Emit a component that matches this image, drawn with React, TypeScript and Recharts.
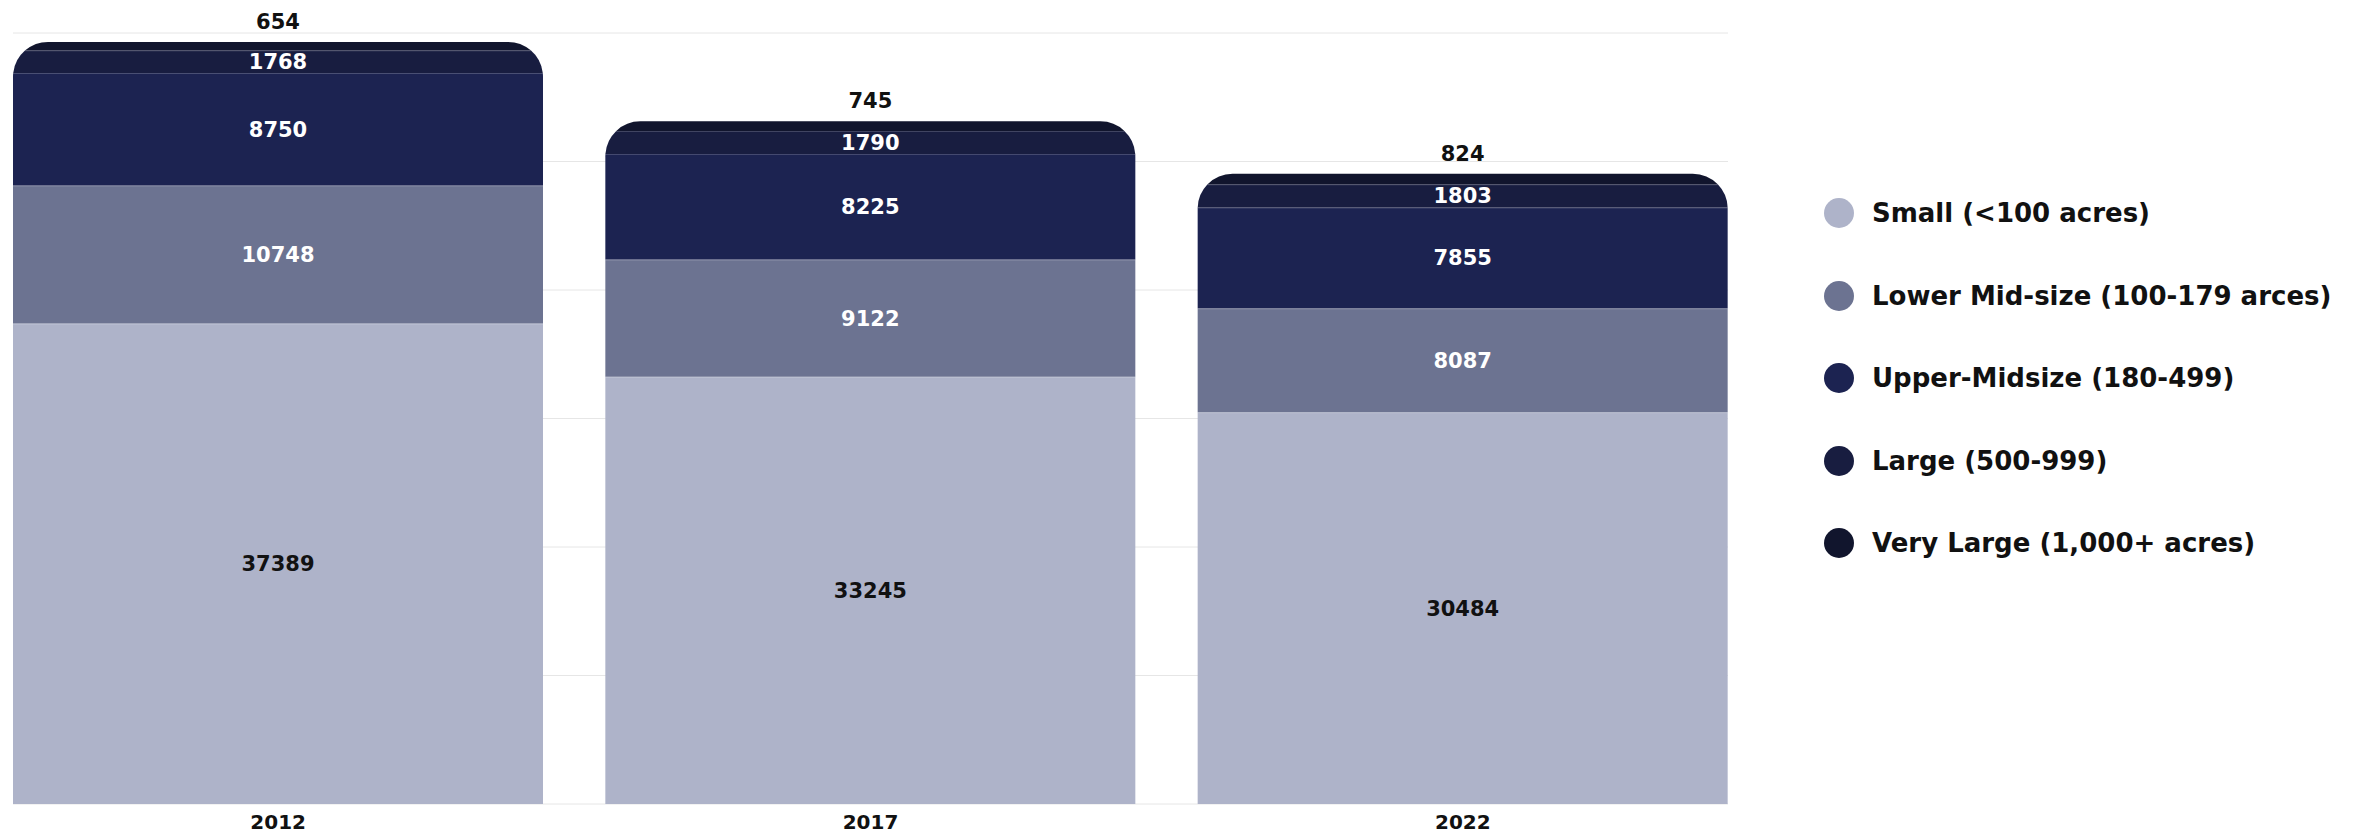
import React from 'react';
import { BarChart, Bar, XAxis, YAxis, CartesianGrid, Legend, LabelList } from 'recharts';

document.body.style.margin = '0';

// farm counts by size class
const years = ['2012', '2017', '2022'];
const small = [37389, 33245, 30484];
const lowerMid = [10748, 9122, 8087];
const upperMid = [8750, 8225, 7855];
const large = [1768, 1790, 1803];
const veryLarge = [654, 745, 824];

const yTicks = [0, 10000, 20000, 30000, 40000, 50000, 60000];

const SERIES = [
    { key: 'small', name: 'Small (<100 acres)', color: '#AEB3C9', label: '#111111' },
    { key: 'lowerMid', name: 'Lower Mid-size (100-179 arces)', color: '#6C7391', label: '#FFFFFF' },
    { key: 'upperMid', name: 'Upper-Midsize (180-499)', color: '#1C2351', label: '#FFFFFF' },
    { key: 'large', name: 'Large (500-999)', color: '#181D40', label: '#FFFFFF' },
    { key: 'veryLarge', name: 'Very Large (1,000+ acres)', color: '#11152D', label: '#111111' },
];
const KEYS = SERIES.map(s => s.key);

const data = years.map((year, i) => ({
    year,
    small: small[i],
    lowerMid: lowerMid[i],
    upperMid: upperMid[i],
    large: large[i],
    veryLarge: veryLarge[i],
}));

const FONT = '"DejaVu Sans", "Noto Sans", sans-serif';
const RADIUS = 35;

// segment outline, with the top corners of the whole stack rounded
const StackShape = (props: any) => {
    const { x, y, width, height, fill, payload, seriesKey } = props;
    const value = payload?.[seriesKey];
    if (!value || !height) return null;
    const k = height / value;
    const pos = KEYS.indexOf(seriesKey);
    const above = KEYS.slice(pos + 1).reduce((s, key) => s + payload[key], 0);
    const top = y - above * k;
    const y0 = y;
    const y1 = y + height;
    const cornerEnd = top + RADIUS;

    let d: string;
    if (y0 >= cornerEnd) {
        d = `M${x},${y0}H${x + width}V${y1}H${x}Z`;
    } else {
        const inset = (yy: number) => RADIUS - Math.sqrt(Math.max(0, RADIUS * RADIUS - (cornerEnd - yy) * (cornerEnd - yy)));
        const ym = Math.min(y1, cornerEnd);
        const a = inset(y0);
        const b = inset(ym);
        d = `M${x + a},${y0}H${x + width - a}` +
            `A${RADIUS},${RADIUS} 0 0 1 ${x + width - b},${ym}` +
            `V${y1}H${x + b}` + (ym < y1 ? `H${x}V${ym}` : '') +
            `A${RADIUS},${RADIUS} 0 0 1 ${x + a},${y0}Z`;
    }
    let lineInset = 0;
    if (y0 < cornerEnd) {
        const dy = cornerEnd - y0;
        lineInset = RADIUS - Math.sqrt(Math.max(0, RADIUS * RADIUS - dy * dy));
    }
    return (
        <g>
            <path d={d} fill={fill} />
            {pos < KEYS.length - 1 && (
                <line x1={x + lineInset} x2={x + width - lineInset} y1={y0 + 0.5} y2={y0 + 0.5} stroke="#FFFFFF" strokeOpacity={0.2} />
            )}
        </g>
    );
};

const LegendContent = ({ payload }: any) => {
    const items = [...(payload || [])].sort((a: any, b: any) => KEYS.indexOf(a.dataKey) - KEYS.indexOf(b.dataKey));
    return (
        <div style={{ fontFamily: FONT }}>
            {items.map((entry: any) => (
                <div key={entry.value} style={{ display: 'flex', alignItems: 'center', height: 82.5 }}>
                    <svg width={32} height={32} style={{ marginRight: 17 }}>
                        <circle cx={16} cy={16} r={15} fill={entry.color} />
                    </svg>
                    <span style={{ fontSize: 26, fontWeight: 700, color: '#111', whiteSpace: 'nowrap' }}>{entry.value}</span>
                </div>
            ))}
        </div>
    );
};

export default function App() {
    return (
        <div style={{ width: 2374, height: 836, background: '#fff' }}>
            <BarChart
                width={2374}
                height={836}
                data={data}
                margin={{ top: 33, right: 646, bottom: 0, left: 13 }}
                barCategoryGap={31}
            >
                <CartesianGrid vertical={false} stroke="#E6E6E6" />
                <XAxis
                    dataKey="year"
                    padding={{ left: -31, right: -31 }}
                    axisLine={false}
                    tickLine={false}
                    tickSize={0}
                    tickMargin={11}
                    height={32}
                    tick={{ fill: '#111', fontSize: 20, fontWeight: 700, fontFamily: FONT }}
                />
                <YAxis hide domain={[0, 60000]} ticks={yTicks} />
                <Legend
                    layout="vertical"
                    align="center"
                    verticalAlign="middle"
                    content={<LegendContent />}
                    wrapperStyle={{ position: 'absolute', left: 1823, top: 172, width: 540 }}
                />
                {SERIES.map(s => (
                    <Bar
                        key={s.key}
                        dataKey={s.key}
                        name={s.name}
                        stackId="farms"
                        fill={s.color}
                        isAnimationActive={false}
                        shape={(p: any) => <StackShape {...p} seriesKey={s.key} />}
                    >
                        <LabelList
                            dataKey={s.key}
                            position={s.key === 'veryLarge' ? 'top' : 'center'}
                            offset={s.key === 'veryLarge' ? 13 : 5}
                            fill={s.label}
                            style={{ fontSize: 21, fontWeight: 700, fontFamily: FONT }}
                        />
                    </Bar>
                ))}
            </BarChart>
        </div>
    );
}
